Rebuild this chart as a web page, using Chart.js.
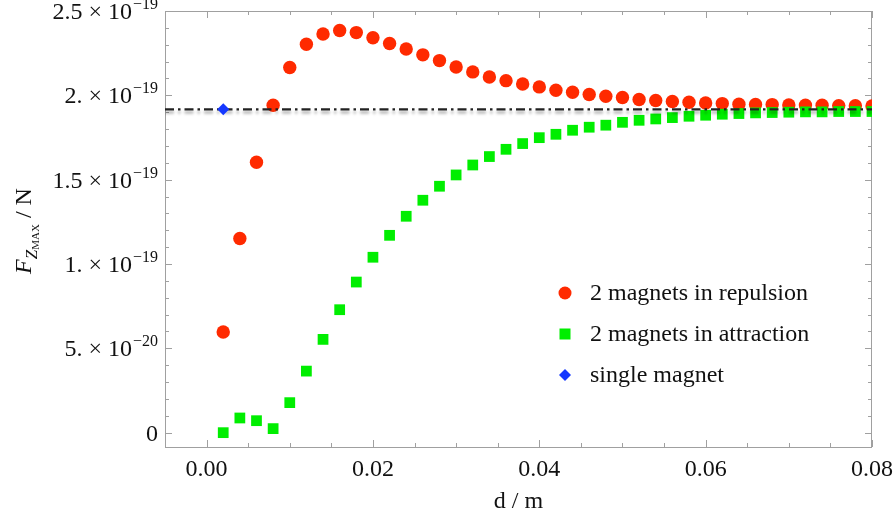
<!DOCTYPE html>
<html><head><meta charset="utf-8">
<script src="https://cdn.jsdelivr.net/npm/chart.js@4/dist/chart.umd.min.js"></script>
<style>html,body{margin:0;padding:0;background:#fff;}canvas{display:block;}</style>
</head><body>
<canvas id="c" width="896" height="526"></canvas>
<script>
// ---- data ----
const distances = [0.002,0.004,0.006,0.008,0.010,0.012,0.014,0.016,0.018,0.020,
  0.022,0.024,0.026,0.028,0.030,0.032,0.034,0.036,0.038,0.040,
  0.042,0.044,0.046,0.048,0.050,0.052,0.054,0.056,0.058,0.060,
  0.062,0.064,0.066,0.068,0.070,0.072,0.074,0.076,0.078,0.080];
const repulsion = [0.597e-19,1.151e-19,1.603e-19,1.941e-19,2.165e-19,2.303e-19,2.364e-19,2.384e-19,2.372e-19,2.341e-19,
  2.307e-19,2.275e-19,2.240e-19,2.206e-19,2.168e-19,2.139e-19,2.109e-19,2.087e-19,2.067e-19,2.050e-19,
  2.030e-19,2.018e-19,2.005e-19,1.995e-19,1.987e-19,1.975e-19,1.969e-19,1.963e-19,1.959e-19,1.955e-19,
  1.951e-19,1.947e-19,1.946e-19,1.945e-19,1.943e-19,1.942e-19,1.941e-19,1.939e-19,1.938e-19,1.937e-19];
const attraction = [0.000e-19,0.087e-19,0.071e-19,0.024e-19,0.178e-19,0.365e-19,0.553e-19,0.729e-19,0.893e-19,1.040e-19,
  1.170e-19,1.283e-19,1.378e-19,1.461e-19,1.528e-19,1.587e-19,1.637e-19,1.680e-19,1.714e-19,1.749e-19,
  1.769e-19,1.793e-19,1.811e-19,1.823e-19,1.840e-19,1.852e-19,1.860e-19,1.868e-19,1.876e-19,1.882e-19,
  1.888e-19,1.892e-19,1.896e-19,1.898e-19,1.900e-19,1.902e-19,1.902e-19,1.904e-19,1.904e-19,1.904e-19];
const singleDistance = [0.002];
const singleMagnet = [1.917e-19];
const referenceLevel = 1.917e-19;
const seriesNames = ['2 magnets in repulsion', '2 magnets in attraction', 'single magnet'];
const xRange = [-0.005, 0.08];
const yRange = [-0.085e-19, 2.5e-19];
const xTickValues = [0, 0.02, 0.04, 0.06, 0.08];
const xTickLabels = ['0.00', '0.02', '0.04', '0.06', '0.08'];
const yTickValues = [0, 5e-20, 1e-19, 1.5e-19, 2e-19, 2.5e-19];
const yTickMantissas = ['0', '5.', '1.', '1.5', '2.', '2.5'];
const yTickExponents = ['', '\u221220', '\u221219', '\u221219', '\u221219', '\u221219'];
const xTitle = 'd / m';

// ---- styling ----
const RED = '#ff2a00', GREEN = '#00ee00', BLUE = '#1538ff';
const SERIF = '"Liberation Serif", "Times New Roman", serif';
const FRAME = '#a0a0a0';

function pts(xs, ys) { return xs.map((x, i) => ({x: x, y: ys[i]})); }

const framePlugin = {
  id: 'frame',
  beforeDatasetsDraw(chart) {
    const {ctx, chartArea: a, scales: {x, y}} = chart;
    ctx.save();
    ctx.strokeStyle = FRAME;
    ctx.lineWidth = 1;
    ctx.strokeRect(Math.round(a.left) + 0.5, Math.round(a.top) + 0.5,
      Math.round(a.right - a.left) - 1, Math.round(a.bottom - a.top));
    ctx.beginPath();
    for (let k = -1; k <= 16; k++) {
      const v = k * 0.005;
      const px = Math.round(x.getPixelForValue(v)) + 0.5;
      const major = (k % 4 === 0);
      const len = major ? 7 : 4;
      ctx.moveTo(px, a.bottom); ctx.lineTo(px, a.bottom - len);
      ctx.moveTo(px, a.top); ctx.lineTo(px, a.top + len);
    }
    for (let k = 0; k <= 25; k++) {
      const v = k * 1e-20;
      const py = Math.round(y.getPixelForValue(v)) + 0.5;
      const major = (k % 5 === 0);
      const len = major ? 7 : 4;
      ctx.moveTo(a.left, py); ctx.lineTo(a.left + len, py);
      ctx.moveTo(a.right, py); ctx.lineTo(a.right - len, py);
    }
    ctx.stroke();
    ctx.restore();
  },
  beforeDatasetDraw(chart, args) {
    if (chart.data.datasets[args.index].isRefLine) {
      const ctx = chart.ctx;
      ctx.save();
      ctx.shadowColor = 'rgba(0,0,0,0.35)';
      ctx.shadowBlur = 3;
      ctx.shadowOffsetY = 3;
    }
  },
  afterDatasetDraw(chart, args) {
    if (chart.data.datasets[args.index].isRefLine) chart.ctx.restore();
  },
  afterDraw(chart) {
    const {ctx, scales: {y}} = chart;
    ctx.save();
    ctx.fillStyle = '#111';
    ctx.textBaseline = 'alphabetic';
    const rightX = 158;
    yTickValues.forEach((v, i) => {
      const py = y.getPixelForValue(v);
      let xEnd = rightX;
      ctx.textAlign = 'right';
      if (yTickExponents[i]) {
        ctx.font = '16px ' + SERIF;
        ctx.fillText(yTickExponents[i], xEnd, py - 2);
        xEnd -= ctx.measureText(yTickExponents[i]).width + 1;
        ctx.font = '24px ' + SERIF;
        ctx.fillText(yTickMantissas[i] + ' \u00d7 10', xEnd, py + 8);
      } else {
        ctx.font = '24px ' + SERIF;
        ctx.fillText(yTickMantissas[i], xEnd, py + 8);
      }
    });
    // y title F_{Z_MAX} / N
    ctx.save();
    ctx.translate(22.5, 231);
    ctx.rotate(-Math.PI / 2);
    ctx.textAlign = 'left';
    const parts = [
      {t: 'F', f: 'italic 24px ' + SERIF, dy: 8},
      {t: 'Z', f: 'italic 17px ' + SERIF, dy: 14},
      {t: 'MAX', f: '11px ' + SERIF, dy: 16},
      {t: ' / N', f: '24px ' + SERIF, dy: 8}
    ];
    let total = 0;
    parts.forEach(p => { ctx.font = p.f; p.w = ctx.measureText(p.t).width; total += p.w; });
    let cx = -total / 2;
    parts.forEach(p => { ctx.font = p.f; ctx.fillText(p.t, cx, p.dy); cx += p.w; });
    ctx.restore();
    // legend
    const lx = 565, tx = 590;
    const rows = [293, 334, 375];
    ctx.font = '24px ' + SERIF;
    ctx.textAlign = 'left';
    ctx.fillStyle = RED;
    ctx.beginPath(); ctx.arc(lx, rows[0], 6.5, 0, Math.PI * 2); ctx.fill();
    ctx.fillStyle = GREEN;
    ctx.fillRect(lx - 5.5, rows[1] - 5.5, 11, 11);
    ctx.fillStyle = BLUE;
    ctx.beginPath();
    ctx.moveTo(lx, rows[2] - 6); ctx.lineTo(lx + 6, rows[2]); ctx.lineTo(lx, rows[2] + 6); ctx.lineTo(lx - 6, rows[2]);
    ctx.closePath(); ctx.fill();
    ctx.fillStyle = '#111';
    seriesNames.forEach((n, i) => ctx.fillText(n, tx, rows[i] + 7));
    ctx.restore();
  }
};

new Chart(document.getElementById('c'), {
  type: 'scatter',
  data: {
    datasets: [
      {label: seriesNames[0], data: pts(distances, repulsion), pointStyle: 'circle', pointRadius: 6.7,
        pointHoverRadius: 6.7, backgroundColor: RED, borderWidth: 0, pointBorderWidth: 0, order: 3, clip: 0},
      {label: seriesNames[1], data: pts(distances, attraction), pointStyle: 'rect', pointRadius: 7.6,
        pointHoverRadius: 7.6, backgroundColor: GREEN, borderWidth: 0, pointBorderWidth: 0, order: 2, clip: 0},
      {label: seriesNames[2], data: pts(singleDistance, singleMagnet), pointStyle: 'rectRot', pointRadius: 6,
        pointHoverRadius: 6, backgroundColor: BLUE, borderWidth: 0, pointBorderWidth: 0, order: 0, clip: 0},
      {label: 'reference', type: 'line', isRefLine: true,
        data: [{x: xRange[0], y: referenceLevel}, {x: xRange[1], y: referenceLevel}],
        borderColor: '#222', borderWidth: 2.2, borderDash: [9, 4, 2.5, 4], pointRadius: 0,
        fill: false, order: 1, clip: 0}
    ]
  },
  options: {
    responsive: false,
    animation: false,
    devicePixelRatio: 1,
    layout: {padding: {left: 0, right: 24, top: 11, bottom: 0}},
    plugins: {legend: {display: false}, tooltip: {enabled: false}},
    events: [],
    scales: {
      x: {
        type: 'linear', min: xRange[0], max: xRange[1],
        afterBuildTicks: s => { s.ticks = xTickValues.map(v => ({value: v})); },
        afterFit: s => { s.height = 79; s.paddingRight = 0; s.paddingLeft = 0; },
        grid: {display: false, drawTicks: false},
        border: {display: false},
        ticks: {
          padding: 8, color: '#111', maxRotation: 0, autoSkip: false,
          font: {family: SERIF, size: 24},
          callback: (v, i) => xTickLabels[i]
        },
        title: {display: true, text: xTitle, color: '#111', font: {family: SERIF, size: 24},
          padding: {top: 0, bottom: 10}}
      },
      y: {
        type: 'linear', min: yRange[0], max: yRange[1],
        afterFit: s => { s.width = 165; s.paddingTop = 0; s.paddingBottom = 0; },
        grid: {display: false, drawTicks: false},
        border: {display: false},
        ticks: {display: false}
      }
    }
  },
  plugins: [framePlugin]
});
</script>
</body></html>
